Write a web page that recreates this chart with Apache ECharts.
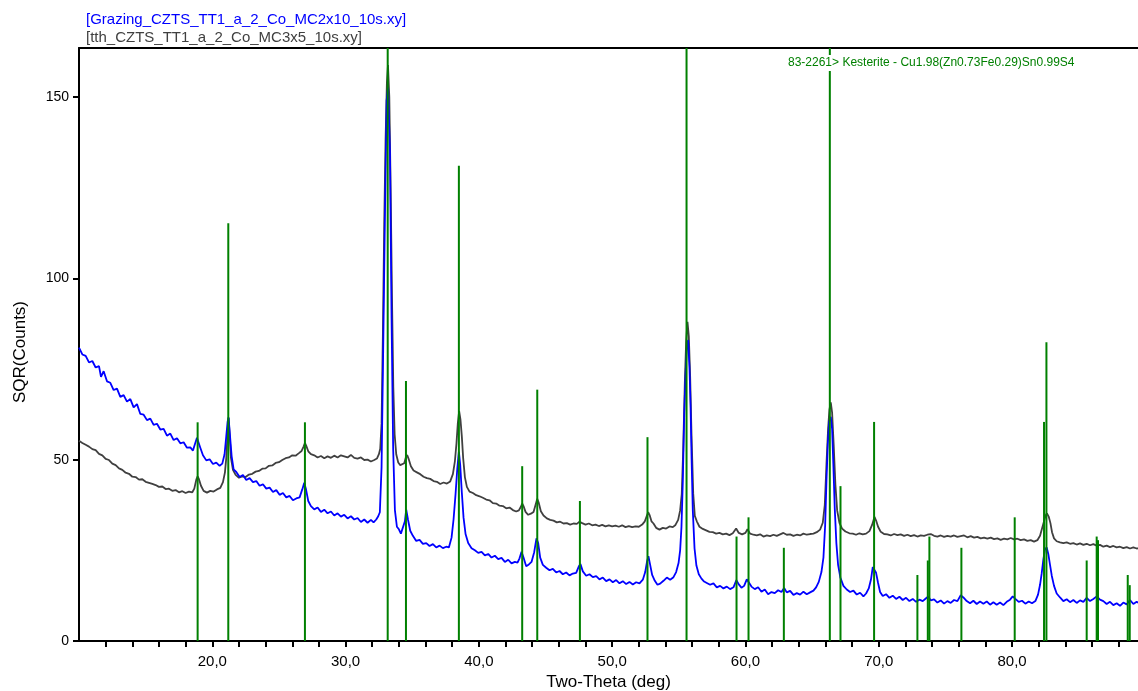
<!DOCTYPE html>
<html>
<head>
<meta charset="utf-8">
<script src="https://cdn.jsdelivr.net/npm/echarts@6/dist/echarts.min.js"></script>
<style>html,body{margin:0;padding:0;background:#fff}#chart{width:1138px;height:691px}</style>
</head>
<body>
<div id="chart"></div>
<script>
// ---- data ----
const scanNames = ['[Grazing_CZTS_TT1_a_2_Co_MC2x10_10s.xy]', '[tth_CZTS_TT1_a_2_Co_MC3x5_10s.xy]'];
const refLabel = '83-2261> Kesterite - Cu1.98(Zn0.73Fe0.29)Sn0.99S4';
const axisNames = ['Two-Theta (deg)', 'SQR(Counts)'];
const xLabelValues = [20, 30, 40, 50, 60, 70, 80];
const xTickValues = [12,14,16,18,20,22,24,26,28,30,32,34,36,38,40,42,44,46,48,50,52,54,56,58,60,62,64,66,68,70,72,74,76,78,80,82,84,86,88];
const yTickValues = [0, 50, 100, 150];

// Kesterite reference sticks: 2-theta and intensity (in SQR counts units of the plot)
const refPositions = [18.90,21.20,26.95,33.16,34.53,38.50,43.25,44.38,47.58,52.65,55.58,59.33,60.23,62.88,66.33,67.13,69.65,72.90,73.68,73.80,76.20,80.20,82.40,82.58,85.60,86.35,86.45,88.68,88.83];
const refIntensities = [60.3,115.2,60.3,163.5,71.7,131.0,48.2,69.3,38.6,56.2,163.5,28.8,34.1,25.7,163.5,42.7,60.4,18.2,22.2,28.8,25.7,34.1,60.4,82.4,22.2,28.8,27.8,18.2,15.4];

// grey scan (tth_...)
const tthScan = [[10.00,55.2],[10.25,54.6],[10.50,54.1],[10.75,53.6],[11.00,52.9],[11.25,52.6],[11.50,51.6],[11.75,51.2],[12.00,50.2],[12.25,49.9],[12.50,48.9],[12.75,48.5],[13.00,47.6],[13.25,47.2],[13.50,46.4],[13.75,46.1],[14.00,45.3],[14.25,45.2],[14.50,44.5],[14.75,44.6],[15.00,43.9],[15.25,43.6],[15.50,43.3],[15.75,43.0],[16.00,42.5],[16.25,42.6],[16.50,41.9],[16.75,42.0],[17.00,41.4],[17.25,41.6],[17.50,41.0],[17.75,41.3],[18.00,40.8],[18.25,41.2],[18.50,41.0],[18.65,42.0],[18.80,44.5],[18.90,45.4],[19.00,44.6],[19.15,42.8],[19.35,41.4],[19.60,40.9],[19.85,41.4],[20.10,41.2],[20.35,41.8],[20.60,42.2],[20.80,43.8],[20.95,46.5],[21.05,50.5],[21.15,57.5],[21.22,61.5],[21.30,57.0],[21.40,50.5],[21.55,47.2],[21.75,45.8],[22.00,45.0],[22.25,45.4],[22.50,45.2],[22.75,45.9],[23.00,46.1],[23.25,46.7],[23.50,46.9],[23.75,47.5],[24.00,47.6],[24.25,48.3],[24.50,48.4],[24.75,49.1],[25.00,49.3],[25.25,49.9],[25.50,50.4],[25.75,50.6],[26.00,51.2],[26.25,51.1],[26.50,51.8],[26.70,52.4],[26.85,53.6],[26.95,54.6],[27.05,53.8],[27.20,52.3],[27.40,51.5],[27.65,51.2],[27.90,50.6],[28.15,51.0],[28.40,50.4],[28.65,50.9],[28.90,50.5],[29.15,51.1],[29.40,50.6],[29.65,51.2],[29.90,50.9],[30.15,50.6],[30.40,51.3],[30.65,50.5],[30.90,50.3],[31.15,50.6],[31.40,49.9],[31.65,50.0],[31.90,49.5],[32.15,49.9],[32.35,50.3],[32.50,51.5],[32.60,53.0],[32.70,60.0],[32.80,85],[32.90,115],[33.00,138],[33.10,154],[33.18,158.8],[33.28,150],[33.38,125],[33.48,95],[33.58,70],[33.68,57.0],[33.80,51.5],[33.95,49.2],[34.10,48.5],[34.25,48.3],[34.40,49.0],[34.52,50.6],[34.62,51.3],[34.75,50.0],[34.90,48.2],[35.10,47.0],[35.35,46.5],[35.60,46.0],[35.85,45.3],[36.10,44.9],[36.35,44.7],[36.60,44.1],[36.85,43.9],[37.10,43.3],[37.35,43.7],[37.60,43.4],[37.85,44.0],[38.05,46.0],[38.20,49.5],[38.32,54.5],[38.42,60.0],[38.52,63.4],[38.62,61.0],[38.72,56.5],[38.82,50.5],[38.95,45.2],[39.10,42.5],[39.30,41.2],[39.55,40.8],[39.80,40.2],[40.05,39.9],[40.30,39.5],[40.55,39.0],[40.80,38.8],[41.05,38.0],[41.30,37.9],[41.55,37.3],[41.80,37.2],[42.05,36.6],[42.30,36.8],[42.55,36.1],[42.80,35.7],[43.00,36.0],[43.15,37.0],[43.25,37.9],[43.35,37.2],[43.50,35.6],[43.70,34.8],[43.90,35.1],[44.10,35.6],[44.25,37.5],[44.38,39.2],[44.50,38.0],[44.65,35.8],[44.85,34.6],[45.10,33.8],[45.35,33.4],[45.60,33.2],[45.85,32.7],[46.10,32.9],[46.35,32.4],[46.60,32.5],[46.85,32.1],[47.10,32.4],[47.35,32.3],[47.55,32.9],[47.75,32.5],[48.00,32.1],[48.25,32.4],[48.50,31.9],[48.75,32.1],[49.00,31.7],[49.25,32.0],[49.50,31.6],[49.75,31.9],[50.00,31.6],[50.25,31.8],[50.50,31.5],[50.75,31.9],[51.00,31.4],[51.25,31.7],[51.50,31.4],[51.75,31.6],[52.00,31.5],[52.25,32.1],[52.45,33.0],[52.60,34.5],[52.70,35.5],[52.82,34.6],[52.95,33.0],[53.10,32.4],[53.30,31.2],[53.55,30.7],[53.80,31.2],[54.05,31.0],[54.30,31.6],[54.55,31.4],[54.75,32.0],[54.95,33.4],[55.10,36.0],[55.22,40.5],[55.33,52.7],[55.45,71.0],[55.55,82.5],[55.65,88.0],[55.75,84.0],[55.85,73.0],[55.95,57.3],[56.08,40.7],[56.20,34.5],[56.35,33.0],[56.55,31.5],[56.80,30.9],[57.05,30.5],[57.30,30.1],[57.55,30.0],[57.80,29.6],[58.05,29.8],[58.30,29.4],[58.55,29.6],[58.80,29.2],[59.05,29.7],[59.30,31.0],[59.50,29.8],[59.75,29.4],[60.00,29.8],[60.15,30.8],[60.35,29.6],[60.60,29.3],[60.85,29.1],[61.10,29.4],[61.35,28.8],[61.60,29.1],[61.85,28.9],[62.10,29.3],[62.35,29.0],[62.60,29.4],[62.85,29.8],[63.10,29.3],[63.35,29.4],[63.60,29.0],[63.85,29.3],[64.10,29.1],[64.35,29.6],[64.60,29.3],[64.85,29.5],[65.10,29.6],[65.35,30.0],[65.60,30.7],[65.80,32.6],[65.95,37.5],[66.08,49.0],[66.20,58.5],[66.30,63.8],[66.40,65.8],[66.50,63.0],[66.62,54.0],[66.75,43.0],[66.88,36.0],[67.05,32.6],[67.25,31.0],[67.50,30.2],[67.80,29.7],[68.05,29.6],[68.30,29.3],[68.55,29.7],[68.80,29.4],[69.05,29.6],[69.30,30.3],[69.50,32.0],[69.68,34.2],[69.80,33.2],[69.95,31.5],[70.15,30.1],[70.40,29.5],[70.65,29.4],[70.90,29.1],[71.15,29.5],[71.40,29.2],[71.65,29.4],[71.90,29.0],[72.15,29.3],[72.40,28.9],[72.65,29.2],[72.90,28.8],[73.15,29.1],[73.40,29.0],[73.65,29.3],[73.90,29.5],[74.15,29.0],[74.40,28.8],[74.65,29.1],[74.90,28.7],[75.15,29.0],[75.40,28.8],[75.65,29.1],[75.90,28.7],[76.15,28.9],[76.40,29.1],[76.65,28.6],[76.90,28.9],[77.15,28.5],[77.40,28.7],[77.65,28.3],[77.90,28.5],[78.15,28.2],[78.40,28.5],[78.65,28.1],[78.90,28.3],[79.15,27.9],[79.40,28.2],[79.65,28.0],[79.90,28.4],[80.15,28.0],[80.40,28.2],[80.65,27.8],[80.90,28.0],[81.15,27.6],[81.40,27.8],[81.65,27.4],[81.90,27.8],[82.10,29.0],[82.25,31.0],[82.40,33.0],[82.52,34.6],[82.62,35.2],[82.75,34.3],[82.88,32.5],[83.00,30.0],[83.15,28.3],[83.35,27.5],[83.60,27.2],[83.85,27.0],[84.10,27.2],[84.35,26.8],[84.60,27.0],[84.85,26.6],[85.10,26.9],[85.35,26.5],[85.60,26.8],[85.85,26.4],[86.10,26.7],[86.35,26.3],[86.60,26.5],[86.85,26.0],[87.10,26.3],[87.35,25.9],[87.60,26.2],[87.85,25.8],[88.10,26.0],[88.35,25.6],[88.60,25.9],[88.85,25.5],[89.10,25.8],[89.35,25.5],[89.60,25.6]];

// blue scan (Grazing_...)
const grazingScan = [[10.00,80.9],[10.25,79.0],[10.50,78.6],[10.75,76.8],[11.00,77.2],[11.25,75.4],[11.50,75.8],[11.65,72.8],[11.85,74.4],[12.10,71.6],[12.35,71.2],[12.60,69.2],[12.85,69.6],[13.10,67.3],[13.35,67.8],[13.60,66.0],[13.85,66.7],[14.10,64.4],[14.35,65.3],[14.60,62.6],[14.85,62.4],[15.10,60.9],[15.35,61.3],[15.60,59.6],[15.85,59.9],[16.10,58.3],[16.35,58.5],[16.60,56.6],[16.85,57.2],[17.10,55.4],[17.35,55.9],[17.60,54.5],[17.85,54.8],[18.10,53.3],[18.35,53.4],[18.55,52.5],[18.70,54.3],[18.85,56.0],[18.95,55.6],[19.10,53.3],[19.30,51.2],[19.55,49.8],[19.80,50.1],[20.05,48.8],[20.30,49.2],[20.55,48.3],[20.75,48.9],[20.92,51.5],[21.05,56.5],[21.15,60.5],[21.22,61.7],[21.32,57.0],[21.45,51.0],[21.60,47.3],[21.80,46.6],[22.05,45.2],[22.30,45.8],[22.55,44.4],[22.80,44.9],[23.05,43.8],[23.30,44.1],[23.55,42.8],[23.80,43.2],[24.05,42.0],[24.30,42.3],[24.55,41.1],[24.80,41.6],[25.05,40.3],[25.30,40.8],[25.55,39.6],[25.80,40.0],[26.05,38.8],[26.30,39.3],[26.55,39.6],[26.75,41.8],[26.90,43.6],[27.02,42.0],[27.20,38.6],[27.40,37.2],[27.65,36.3],[27.90,36.8],[28.15,35.6],[28.40,36.2],[28.65,35.2],[28.90,35.7],[29.15,34.6],[29.40,35.2],[29.65,34.3],[29.90,34.8],[30.15,33.8],[30.40,34.4],[30.65,33.5],[30.90,33.9],[31.15,32.8],[31.40,33.5],[31.65,32.6],[31.90,33.4],[32.10,32.7],[32.30,33.5],[32.45,34.4],[32.57,35.5],[32.70,48.0],[32.82,80],[32.95,117],[33.08,149],[33.18,152.5],[33.33,135.0],[33.45,89],[33.57,53],[33.70,36.1],[33.85,31.5],[34.00,30.8],[34.15,29.6],[34.30,29.8],[34.45,33.0],[34.55,36.2],[34.68,33.5],[34.85,30.4],[35.05,29.0],[35.30,27.6],[35.55,27.9],[35.80,26.8],[36.05,27.0],[36.30,26.2],[36.55,26.7],[36.80,25.8],[37.05,26.3],[37.30,25.6],[37.55,26.0],[37.75,25.8],[37.95,28.5],[38.10,33.5],[38.25,40.5],[38.38,47.5],[38.50,52.2],[38.60,48.5],[38.72,41.0],[38.85,34.0],[39.00,29.5],[39.20,27.0],[39.45,25.6],[39.70,25.0],[39.95,24.3],[40.20,24.6],[40.45,23.6],[40.70,24.0],[40.95,23.0],[41.20,23.5],[41.45,22.6],[41.70,22.9],[41.95,21.8],[42.20,22.4],[42.45,21.4],[42.70,21.8],[42.90,21.6],[43.05,22.8],[43.20,24.6],[43.35,23.0],[43.55,20.6],[43.75,21.1],[43.95,21.8],[44.15,24.5],[44.32,28.3],[44.45,27.0],[44.60,23.0],[44.80,21.0],[45.05,20.2],[45.30,19.5],[45.55,19.9],[45.80,18.9],[46.05,19.3],[46.30,18.4],[46.55,18.9],[46.80,18.1],[47.05,18.6],[47.30,18.8],[47.50,20.6],[47.62,21.2],[47.80,19.2],[48.05,18.0],[48.30,18.4],[48.55,17.6],[48.80,17.9],[49.05,17.0],[49.30,17.5],[49.55,16.5],[49.80,17.0],[50.05,16.2],[50.30,16.8],[50.55,15.9],[50.80,16.5],[51.05,15.7],[51.30,16.3],[51.55,15.6],[51.80,16.2],[52.05,15.9],[52.30,16.9],[52.48,19.0],[52.62,22.0],[52.72,23.4],[52.85,21.0],[53.00,18.2],[53.20,16.6],[53.40,15.5],[53.60,15.8],[53.85,16.6],[54.10,17.5],[54.35,16.9],[54.60,17.6],[54.80,19.0],[54.98,21.5],[55.10,25.0],[55.20,31.5],[55.30,44.0],[55.40,61.8],[55.50,73.0],[55.60,80.8],[55.70,83.0],[55.80,75.5],[55.88,65.0],[55.96,50.0],[56.05,36.0],[56.18,25.5],[56.32,20.8],[56.50,18.4],[56.70,17.2],[56.90,16.4],[57.10,16.0],[57.35,15.5],[57.60,15.9],[57.85,14.8],[58.10,15.2],[58.35,14.5],[58.60,15.0],[58.85,14.3],[59.10,14.8],[59.32,16.8],[59.50,15.6],[59.70,14.7],[59.90,15.2],[60.10,17.0],[60.25,16.6],[60.45,15.0],[60.70,14.3],[60.95,14.8],[61.20,13.6],[61.45,14.2],[61.70,12.9],[61.95,13.5],[62.20,13.2],[62.45,14.0],[62.70,13.5],[62.90,14.6],[63.10,13.4],[63.35,13.8],[63.60,12.7],[63.85,13.2],[64.10,12.8],[64.35,13.6],[64.60,12.9],[64.85,13.4],[65.10,13.9],[65.30,14.8],[65.50,16.3],[65.70,19.0],[65.85,23.0],[65.98,32.0],[66.08,44.4],[66.18,54.5],[66.28,60.5],[66.40,61.8],[66.50,58.5],[66.60,48.0],[66.70,36.5],[66.82,27.0],[66.95,21.0],[67.12,17.5],[67.35,15.2],[67.60,14.2],[67.85,13.5],[68.10,13.9],[68.35,12.8],[68.60,13.3],[68.85,12.3],[69.05,13.1],[69.25,14.5],[69.42,17.0],[69.55,20.4],[69.65,20.0],[69.80,18.8],[69.95,16.0],[70.10,13.5],[70.30,12.4],[70.55,12.9],[70.80,11.9],[71.05,12.5],[71.30,11.6],[71.55,12.2],[71.80,11.3],[72.05,11.9],[72.30,11.0],[72.55,11.6],[72.80,10.8],[73.05,11.4],[73.30,11.0],[73.55,11.8],[73.72,12.3],[73.90,11.2],[74.15,11.5],[74.40,10.6],[74.65,11.2],[74.90,10.3],[75.15,11.0],[75.40,10.5],[75.65,11.3],[75.90,11.0],[76.15,12.6],[76.35,12.0],[76.60,11.0],[76.85,10.4],[77.10,11.1],[77.35,10.2],[77.60,10.9],[77.85,10.3],[78.10,10.9],[78.35,10.0],[78.60,10.7],[78.85,10.0],[79.10,10.6],[79.35,9.9],[79.60,10.8],[79.85,11.4],[80.05,12.3],[80.25,11.6],[80.50,10.8],[80.75,11.1],[81.00,10.3],[81.25,10.9],[81.50,10.4],[81.75,11.0],[81.95,12.8],[82.10,15.5],[82.22,18.5],[82.35,22.5],[82.47,25.2],[82.60,25.8],[82.72,24.0],[82.85,21.0],[82.98,18.0],[83.15,15.2],[83.35,13.1],[83.60,12.0],[83.85,11.0],[84.10,11.5],[84.35,10.7],[84.60,11.3],[84.85,10.5],[85.10,11.2],[85.35,10.8],[85.60,11.9],[85.85,11.0],[86.10,11.6],[86.35,12.3],[86.60,11.4],[86.85,11.0],[87.10,10.2],[87.35,10.8],[87.60,9.9],[87.85,10.4],[88.10,9.7],[88.35,10.6],[88.60,10.1],[88.85,11.3],[89.10,10.2],[89.35,10.8],[89.60,10.4]];

// ---- chart ----
const FONT = 'Liberation Sans, Arial, sans-serif';
const chart = echarts.init(document.getElementById('chart'), null, {renderer: 'canvas'});
const refData = refPositions.map((p, i) => [p, refIntensities[i]]);
const X_MIN = 10, X_MAX = 89.45, Y_MIN = 0, Y_MAX = 163.5;

chart.setOption({
  animation: false,
  backgroundColor: '#ffffff',
  title: [
    {text: scanNames[0], left: 86, top: 12, padding: 0, textStyle: {color: '#0000ff', fontSize: 15, fontWeight: 'normal', fontFamily: FONT}},
    {text: scanNames[1], left: 86, top: 30, padding: 0, textStyle: {color: '#404040', fontSize: 15, fontWeight: 'normal', fontFamily: FONT}}
  ],
  grid: {left: 79, right: 0, top: 48, bottom: 50, containLabel: false, outerBoundsMode: 'none'},
  xAxis: [{
    type: 'value', min: X_MIN, max: X_MAX, position: 'bottom',
    name: axisNames[0], nameLocation: 'middle', nameGap: 33,
    nameTextStyle: {color: '#000', fontSize: 17, fontFamily: FONT},
    axisLine: {show: true, onZero: false, lineStyle: {color: '#000', width: 2}},
    axisTick: {show: true, inside: false, length: 6, customValues: xTickValues, lineStyle: {color: '#000', width: 2}},
    axisLabel: {show: true, customValues: xLabelValues, margin: 13, color: '#000', fontSize: 15, fontFamily: FONT,
      formatter: v => v.toFixed(1).replace('.', ',')},
    splitLine: {show: false}
  }, {
    type: 'value', min: X_MIN, max: X_MAX, position: 'top',
    axisLine: {show: true, onZero: false, lineStyle: {color: '#000', width: 2}},
    axisTick: {show: false}, axisLabel: {show: false}, splitLine: {show: false}
  }],
  yAxis: {
    type: 'value', min: Y_MIN, max: Y_MAX,
    axisLine: {show: true, onZero: false, lineStyle: {color: '#000', width: 2}},
    axisTick: {show: true, length: 6, customValues: yTickValues, lineStyle: {color: '#000', width: 2}},
    axisLabel: {show: true, customValues: yTickValues, margin: 10, color: '#000', fontSize: 14, fontFamily: FONT},
    splitLine: {show: false}
  },
  graphic: [{
    type: 'text', left: 787, top: 55, z: 100,
    style: {text: refLabel, fill: '#008000', font: '12px ' + FONT, backgroundColor: '#ffffff', padding: [2, 1, 2, 1]}
  }, {
    type: 'text', x: 20, y: 352, rotation: Math.PI / 2, z: 100,
    style: {text: axisNames[1], fill: '#000', font: '17px ' + FONT, align: 'center', verticalAlign: 'middle'}
  }],
  series: [
    {name: scanNames[1], type: 'line', data: tthScan, showSymbol: false, z: 2,
      lineStyle: {color: '#404040', width: 1.8}, itemStyle: {color: '#404040'}},
    {name: scanNames[0], type: 'line', data: grazingScan, showSymbol: false, z: 3,
      lineStyle: {color: '#0000ff', width: 1.8}, itemStyle: {color: '#0000ff'}},
    {name: 'Kesterite', type: 'custom', data: refData, z: 4,
      renderItem: function (params, api) {
        const x = api.value(0), h = api.value(1);
        const p0 = api.coord([x, 0]);
        const p1 = api.coord([x, h]);
        return {type: 'line', shape: {x1: p0[0], y1: p0[1], x2: p1[0], y2: p1[1]},
          style: {stroke: '#008000', lineWidth: 2}};
      }}
  ]
});
</script>
</body>
</html>
